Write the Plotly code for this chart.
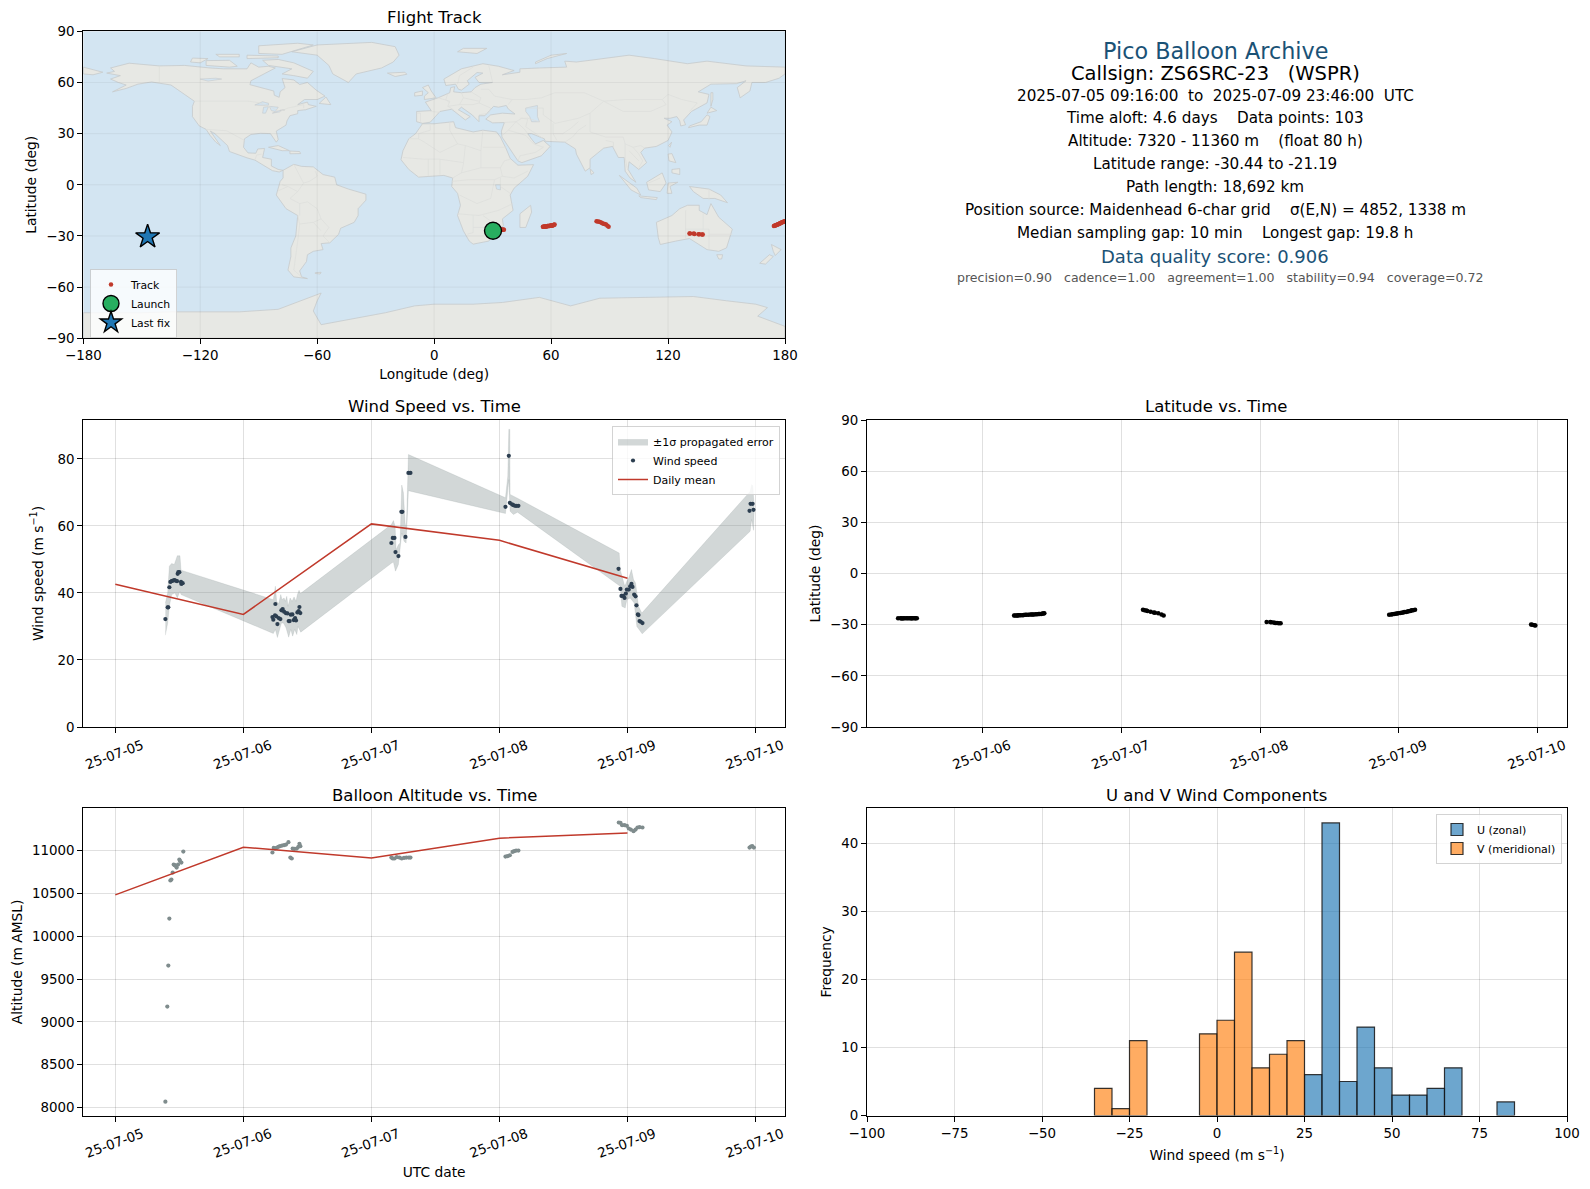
# Pico balloon flight summary, six panels
import pandas as pd
import plotly.graph_objects as go

# ---- samples, day of July 2025 (decimal) ----
wind_days = [5.391, 5.409, 5.414, 5.422, 5.430, 5.440, 5.451, 5.461, 5.471, 5.482, 5.487, 5.492, 5.500, 5.513, 5.516, 5.526,
             6.227, 6.234, 6.247, 6.250, 6.258, 6.266, 6.276, 6.289, 6.297, 6.307, 6.318, 6.331, 6.344, 6.354, 6.362, 6.370,
             6.383, 6.393, 6.404, 6.411, 6.422, 6.432, 6.438, 6.445,
             7.156, 7.167, 7.180, 7.188, 7.211, 7.234, 7.242, 7.266, 7.289, 7.305,
             8.047, 8.073, 8.081, 8.099, 8.109, 8.122, 8.135, 8.148,
             8.930, 8.945, 8.953, 8.966, 8.977, 8.987, 8.995, 9.010, 9.021, 9.031, 9.039, 9.052, 9.063, 9.070, 9.081, 9.086,
             9.094, 9.104, 9.117,
             9.953, 9.961, 9.977, 9.984]
wind_speed = [32.2, 35.7, 35.7, 41.7, 43.3, 43.5, 43.7, 43.8, 43.7, 43.5, 45.7, 46.2, 46.2, 43.3, 42.7, 42.9,
              32.8, 32.0, 33.3, 36.7, 33.0, 30.7, 32.5, 32.2, 34.8, 35.2, 34.4, 34.0, 33.9, 31.6, 31.6, 33.5,
              33.6, 31.9, 32.5, 31.8, 34.2, 34.6, 35.8, 34.0,
              54.9, 56.4, 56.4, 52.2, 51.0, 64.2, 64.2, 56.7, 75.8, 75.8,
              65.7, 80.9, 66.9, 66.4, 66.2, 66.0, 66.0, 66.0,
              47.2, 41.2, 39.1, 39.1, 38.5, 39.8, 41.0, 41.0, 42.0, 42.7, 41.8, 39.5, 39.0, 36.3, 33.6, 33.4,
              31.6, 31.4, 31.0,
              64.5, 66.6, 66.6, 64.8]

upper_days = [5.391, 5.409, 5.422, 5.440, 5.461, 5.484, 5.505, 5.513,
              6.234, 6.250, 6.260, 6.276, 6.292, 6.302, 6.318, 6.328, 6.339, 6.349, 6.365, 6.380, 6.396, 6.411, 6.422, 6.435, 6.445,
              7.156, 7.172, 7.185, 7.193, 7.211, 7.224, 7.237, 7.250, 7.263, 7.273, 7.289,
              8.047, 8.065, 8.073, 8.081, 8.083, 8.148,
              8.935, 8.943, 8.964, 8.979, 8.995, 9.010, 9.031, 9.047, 9.063, 9.086, 9.112,
              9.958, 9.969, 9.979, 9.990]
upper_speed = [37.0, 40.0, 48.0, 48.8, 48.5, 51.1, 51.1, 46.8,
               38.0, 42.0, 37.5, 36.8, 39.5, 38.0, 38.5, 37.5, 39.0, 36.0, 38.5, 37.5, 38.8, 37.5, 39.5, 40.8, 39.8,
               60.4, 61.6, 59.9, 52.9, 54.4, 54.9, 72.2, 69.9, 60.9, 58.9, 81.3,
               68.4, 74.8, 88.8, 88.8, 69.4, 68.1,
               51.9, 47.0, 44.0, 42.0, 43.5, 44.5, 47.0, 44.0, 43.0, 36.0, 34.0,
               70.3, 72.3, 72.0, 64.9]
lower_days = [5.391, 5.409, 5.422, 5.440, 5.466, 5.484, 5.505, 5.513,
              6.234, 6.250, 6.266, 6.281, 6.297, 6.313, 6.333, 6.354, 6.370, 6.385, 6.401, 6.417, 6.427, 6.448,
              7.161, 7.172, 7.188, 7.211, 7.224, 7.237, 7.255, 7.271, 7.289,
              8.047, 8.073, 8.083, 8.109, 8.141,
              8.943, 8.956, 8.982, 8.995, 9.021, 9.052, 9.073, 9.115,
              9.958, 9.969, 9.984]
lower_speed = [27.4, 31.0, 36.0, 39.5, 40.0, 38.5, 40.5, 39.5,
               27.9, 29.1, 26.7, 28.6, 31.0, 31.0, 29.6, 26.8, 29.1, 27.1, 29.1, 27.6, 30.0, 28.3,
               49.0, 49.2, 46.5, 48.5, 51.9, 57.9, 55.4, 54.9, 70.5,
               63.7, 73.8, 64.4, 63.4, 64.1,
               42.0, 36.0, 35.5, 38.0, 38.5, 37.0, 30.0, 27.8,
               58.4, 61.9, 58.7]

mean_days = [5, 6, 7, 8, 9]
mean_speed = [42.6, 33.6, 60.6, 55.7, 44.4]
mean_alt = [10482, 11039, 10914, 11144, 11206]

alt_days = [5.391, 5.406, 5.414, 5.422, 5.430, 5.438, 5.448, 5.456, 5.464, 5.471, 5.479, 5.490, 5.500, 5.505, 5.516, 5.531,
            6.227, 6.237, 6.247, 6.260, 6.273, 6.286, 6.302, 6.318, 6.333, 6.352, 6.367, 6.378, 6.385, 6.398, 6.417, 6.430, 6.438, 6.445,
            7.156, 7.167, 7.180, 7.198, 7.219, 7.237, 7.255, 7.273, 7.292, 7.305,
            8.047, 8.063, 8.081, 8.102, 8.115, 8.130, 8.148,
            8.932, 8.945, 8.958, 8.977, 8.995, 9.010, 9.026, 9.047, 9.063, 9.078, 9.094, 9.117,
            9.953, 9.964, 9.974, 9.987]
alt_m = [8068, 9178, 9657, 10206, 10650, 10661, 10743, 10836, 10829, 10821, 10801, 10836, 10895, 10879, 10860, 10988,
         10977, 11031, 11023, 11031, 11043, 11051, 11058, 11062, 11070, 11097, 10918, 10907, 11023, 11019, 11023, 11043, 11078, 11051,
         10918, 10907, 10907, 10922, 10918, 10907, 10914, 10918, 10918, 10918,
         10930, 10934, 10945, 10984, 10992, 11000, 11000,
         11327, 11323, 11296, 11296, 11288, 11257, 11245, 11226, 11245, 11269, 11273, 11269,
         11035, 11047, 11051, 11035]

# latitude shares the wind sample times
lat_deg = [-26.3, -26.3, -26.3, -26.4, -26.3, -26.3, -26.3, -26.2, -26.3, -26.3, -26.3, -26.2, -26.3, -26.3, -26.2, -26.3,
           -24.6, -24.6, -24.6, -24.6, -24.5, -24.5, -24.5, -24.5, -24.3, -24.2, -24.2, -24.2, -24.1, -24.1, -24.0, -24.0,
           -23.9, -23.9, -23.8, -23.8, -23.7, -23.5, -23.4, -23.3,
           -21.3, -21.5, -21.7, -22.0, -22.4, -22.8, -23.0, -23.3, -24.0, -24.6,
           -28.5, -28.5, -28.6, -28.8, -29.0, -29.0, -29.2, -29.2,
           -24.2, -24.0, -23.9, -23.7, -23.6, -23.4, -23.3, -23.1, -23.0, -22.8, -22.6, -22.5, -22.3, -22.1, -22.0, -21.8,
           -21.6, -21.5, -21.3,
           -29.9, -30.1, -30.3, -30.44]
lon_deg = [30.2, 30.5, 30.9, 31.3, 31.7, 32.0, 32.4, 32.8, 33.2, 33.5, 33.9, 34.2, 34.6, 35.0, 35.4, 35.8,
           55.8, 56.0, 56.3, 56.5, 56.8, 57.1, 57.3, 57.6, 57.8, 58.1, 58.4, 58.6, 58.9, 59.2, 59.4, 59.7,
           60.0, 60.2, 60.5, 60.7, 61.0, 61.3, 61.5, 61.8,
           83.3, 84.0, 84.7, 85.4, 86.1, 86.8, 87.5, 88.2, 88.9, 89.5,
           131.0, 131.3, 133.2, 133.5, 135.6, 136.0, 137.4, 137.8,
           174.3, 174.6, 175.0, 175.3, 175.6, 175.9, 176.2, 176.5, 176.8, 177.1, 177.4, 177.7, 178.0, 178.3, 178.6, 178.9,
           179.2, 179.6, 179.9,
           -147.9, -147.6, -147.3, -147.0]

launch_lon, launch_lat = [30.2], [-26.9]
last_lon, last_lat = [-147.0], [-30.44]

# histogram counts, 5 m/s bins
u_bins = [25, 30, 35, 40, 45, 50, 55, 60, 65, 80]
u_counts = [6, 43, 5, 13, 7, 3, 3, 4, 7, 2]
v_bins = [-35, -30, -25, -5, 0, 5, 10, 15, 20]
v_counts = [4, 1, 11, 12, 14, 24, 7, 9, 11]

# ---- rough coastlines as (lon, lat) ----
north_america = [(-168, 65.5), (-164, 66.5), (-166, 68.5), (-156.5, 71.3), (-141, 69.7), (-128, 70), (-115, 68.5), (-108, 68), (-96, 68),
                 (-94, 71.5), (-90, 69), (-85, 69.5), (-81.5, 68.5), (-87, 65), (-94, 61), (-94.5, 58.7), (-88, 56.5), (-82.3, 55),
                 (-82, 52.5), (-79.5, 51.3), (-79, 54.5), (-76.5, 57), (-78, 62.3), (-72, 61.5), (-69, 58.8), (-65, 60), (-60.5, 55.5),
                 (-56, 52), (-60, 50), (-66.5, 50), (-70, 47), (-65, 48.5), (-64.5, 47), (-60.5, 46), (-66, 44), (-70, 43.5), (-70, 41.7),
                 (-74, 40.5), (-75.5, 37.5), (-76, 35), (-81, 31.5), (-80, 26.5), (-81, 25), (-82.7, 28), (-84, 30), (-89, 30.2), (-94, 29.5),
                 (-97.3, 27), (-97.8, 22), (-95.5, 18.7), (-91.5, 18.5), (-90.5, 21), (-87, 21.3), (-88, 16), (-83.5, 15), (-83.5, 11),
                 (-80, 9), (-77.5, 8.5), (-79.5, 7.5), (-83, 8.3), (-86, 10.5), (-92, 14.5), (-96, 15.8), (-105, 19.5), (-106, 23),
                 (-112.5, 30), (-114.8, 31.5), (-112, 26.5), (-109.7, 23), (-112, 25), (-115, 29), (-117, 32.5), (-120.5, 34.5), (-124, 40),
                 (-124, 46), (-123, 49), (-130, 54.5), (-135, 58.5), (-145, 60.3), (-152, 59), (-158, 56.5), (-165, 54.5), (-158, 58.5),
                 (-162, 60), (-166, 62), (-161, 64), (-168, 65.5)]
south_america = [(-77.5, 8.5), (-72, 12), (-68, 10.8), (-62, 10.5), (-57, 6), (-51, 4.5), (-50, 0), (-44, -2.5), (-35, -5.5), (-35, -9),
                 (-39, -14), (-39, -18), (-41, -22), (-48, -25.5), (-49, -29), (-53.5, -34), (-58, -34.5), (-57, -38), (-62, -39), (-65, -41),
                 (-65.5, -45), (-69, -50.5), (-68, -54), (-65, -55), (-72, -54), (-75, -50), (-73.5, -42), (-73.5, -37), (-71, -30),
                 (-70, -18), (-76, -14), (-81, -6), (-80, -2), (-79, 2), (-77.5, 4), (-77.5, 8.5)]
africa = [(-6, 35.8), (0, 35.8), (10, 37), (11, 33.5), (20, 31), (25, 32), (32, 31), (34, 28), (37, 21), (39, 15.5), (43, 11.5), (51, 11.8),
          (48, 5), (41, -2), (39, -6), (40.5, -15), (35, -20), (35.5, -24), (32.7, -27), (28, -33), (20, -34.8), (18, -33), (15, -27),
          (12, -18), (13.5, -12), (12, -5), (9, -1), (9.5, 4), (5, 5.5), (-4, 5), (-8, 4.5), (-13, 9), (-17, 14.7), (-16, 20), (-13, 27),
          (-9.5, 30), (-6, 35.8)]
eurasia = [(-9, 37), (-9, 43), (-1.5, 43.5), (-4.5, 48.5), (2, 51), (8, 54), (8.5, 57), (10.5, 57.5), (10, 54.5), (14, 54), (19, 54.5),
           (21, 57), (24, 59), (30, 60), (23, 60), (21, 63), (25, 65.5), (22, 65.8), (17, 61), (18, 59), (14, 55.5), (12.5, 56), (11, 59),
           (6, 58.2), (5, 62), (14, 68), (25, 71), (33, 69.5), (41, 67), (35, 64.5), (44, 66), (44, 68), (54, 68.5), (68, 69), (67, 72.5),
           (73, 72), (80, 73), (100, 76), (113, 74), (130, 71), (140, 72.5), (160, 69.7), (180, 69), (180, 65), (177, 62.5), (170, 60),
           (163, 60), (162, 55), (157, 51), (155.5, 57), (160, 61), (155, 59.3), (142, 59), (135.5, 54.5), (141, 53), (140, 48), (132, 43),
           (128, 38), (129, 35.2), (126.5, 34.5), (126, 37.5), (124.5, 40), (121, 39), (118, 39), (122, 37), (119.5, 35), (122, 31), (120, 26),
           (114, 22.5), (108, 21.5), (106, 19), (109, 13), (105, 9), (100, 13.5), (99.5, 9), (103.5, 1.5), (100.5, 4), (98, 8), (97.5, 16),
           (94.5, 16), (91.5, 22.5), (87, 21.5), (80, 15), (80, 10), (77.5, 8), (73, 18), (72.5, 21), (67, 25), (57, 25.5), (56.5, 27),
           (50, 30), (48, 30), (50.5, 26), (52, 24), (56, 26), (59.5, 22.5), (55, 17), (45, 13), (43, 14), (39, 21), (34.8, 28), (34.5, 31.5),
           (36, 36.5), (30, 36.3), (26.5, 38.5), (29, 41), (35, 42), (41.5, 41.5), (38, 44.5), (37, 46.5), (33, 45.5), (30.5, 46), (28, 43),
           (26, 40.5), (23, 40.5), (23, 37), (19.5, 41), (14, 45.5), (12.5, 44), (18.5, 40), (16, 38), (11, 42.5), (9, 44.3), (3, 43), (0, 39),
           (-2, 36.7), (-6, 36), (-9, 37)]
australia = [(114, -22), (122, -18), (126, -14), (130, -12), (136, -12), (136, -15), (140, -17.5), (142, -11), (146, -19), (153, -26),
             (150, -37), (146, -39), (140, -38), (136, -35), (131, -31.5), (124, -33), (116, -35), (115, -31), (114, -22)]
antarctica = [(-180, -75), (-150, -75), (-135, -74.5), (-100, -74.5), (-80, -73), (-68, -68), (-58, -63.5), (-60, -68), (-62, -74), (-58, -82),
              (-40, -78), (-25, -75), (-10, -71), (0, -70), (20, -70), (35, -69), (54, -66), (70, -71), (85, -66.5), (110, -66), (133, -65.5),
              (150, -68), (165, -70), (171, -72), (166, -77), (180, -83), (180, -90), (-180, -90), (-180, -75)]
islands = [
    [(-73, 78), (-60, 76), (-54, 70), (-52, 65), (-44, 60), (-40, 65), (-27, 68.5), (-21, 72), (-18, 76), (-20, 81), (-32, 83.5), (-60, 82), (-73, 78)],
    [(-80, 73.5), (-72, 71.5), (-62, 66.5), (-65, 62.5), (-72, 64), (-78, 65), (-73, 68), (-85, 70), (-88, 73), (-80, 73.5)],
    [(-117, 70), (-105, 69), (-101, 69.5), (-105, 73), (-117, 72.8), (-117, 70)],
    [(-125, 72), (-120, 71.5), (-116, 74), (-124, 74.3), (-125, 72)],
    [(-90, 77), (-78, 76.5), (-62, 82), (-70, 83), (-90, 81.5), (-90, 77)],
    [(-96, 74), (-80, 74.5), (-80, 75.5), (-96, 76), (-96, 74)],
    [(-110, 75), (-100, 75), (-100, 76.5), (-112, 76.5), (-110, 75)],
    [(-59, 47.7), (-53, 47), (-55.5, 51.5), (-59, 47.7)],
    [(-85, 22), (-80, 23), (-74.2, 20), (-78, 20), (-85, 22)],
    [(-74, 19.8), (-69, 19.5), (-68.5, 18.3), (-74, 18.2), (-74, 19.8)],
    [(-180, 69), (-170, 66), (-175, 64.5), (-180, 65), (-180, 69)],
    [(-5, 50), (1, 51), (-1.5, 55), (-3, 58.5), (-6, 57), (-3, 54), (-5, 52), (-5, 50)],
    [(-10, 52), (-6, 52.5), (-6, 55), (-10, 54), (-10, 52)],
    [(-24, 65.5), (-15, 66), (-14, 64.8), (-20, 63.5), (-24, 65.5)],
    [(12, 78), (22, 77), (27, 80), (15, 80), (12, 78)],
    [(52, 71), (58, 74), (68, 77), (60, 76), (52, 72), (52, 71)],
    [(130.5, 33.5), (136, 35), (140, 35), (141.5, 40), (140, 41), (137, 37), (131, 34.5), (130.5, 33.5)],
    [(140, 42), (145, 43.5), (142, 45.5), (140, 42)],
    [(142, 46), (143, 50), (143, 54), (142, 54), (142, 46)],
    [(120.3, 23), (121.8, 25), (121, 22), (120.3, 23)],
    [(120, 18), (122, 18.3), (124, 13), (120.5, 14), (120, 18)],
    [(122, 9), (126, 9.5), (126, 6), (122, 7), (122, 9)],
    [(109, 1.5), (117, 7), (119, 1), (116, -4), (110, -3), (109, 1.5)],
    [(95, 5.5), (104, -2), (106, -6), (101, -3), (95, 5.5)],
    [(105, -6.5), (114.5, -7.5), (114, -8.7), (106, -7.5), (105, -6.5)],
    [(119.5, -5), (120, 1), (125, 1.5), (121, -1), (122, -5), (119.5, -5)],
    [(131, -1), (141, -2.5), (147, -6), (150.5, -10.5), (144, -8), (138, -8), (133, -4), (131, -1)],
    [(145, -41), (148, -41), (147.5, -43.5), (146, -43.5), (145, -41)],
    [(173, -35), (178, -38), (175, -41.5), (174, -39), (173, -35)],
    [(172, -41), (174, -42), (170, -46.5), (167, -46), (172, -41)],
    [(49.5, -12), (50, -16), (47, -25), (44, -25), (44, -17), (49.5, -12)],
    [(80, 9.5), (82, 7), (80.5, 6), (80, 9.5)],
    [(-61, -51.5), (-58, -51.3), (-58.5, -52.3), (-61, -52), (-61, -51.5)],
]
lakes = [
    [(-92, 46.8), (-88, 48.7), (-85, 47.8), (-85, 46.7), (-88, 46.6), (-92, 46.8)],
    [(-88, 42), (-86.5, 42), (-85, 45.8), (-87.5, 45.5), (-88, 42)],
    [(-84.5, 46), (-80, 45.5), (-81.5, 43), (-83.5, 43.5), (-84.5, 46)],
    [(-83, 42), (-79, 42.8), (-79, 43.7), (-77, 43.6), (-76.5, 44), (-79.5, 43.5), (-83, 42)],
    [(47, 45), (53, 46.5), (53, 40), (54, 37), (50, 37), (49, 40), (47, 43), (47, 45)],
    [(-120, 62), (-112, 62.5), (-109, 62), (-116, 60.8), (-120, 62)],
    [(31.5, 0), (34, 0), (34, -3), (32, -2.5), (31.5, 0)],
]
borders = [
    [(-123, 49), (-95, 49), (-89, 48), (-82.5, 45), (-79, 43), (-75, 45), (-67, 47), (-67, 45)], [(-141, 69.7), (-141, 60)],
    [(-117, 32.5), (-106.5, 31.7), (-97.3, 26)], [(-92, 14.5), (-91, 17.5), (-88.5, 18)], [(-72, 12), (-67, 1), (-70, -4), (-74, -8), (-69, -11)],
    [(-61, 8), (-60, 5), (-64, 2), (-67, 1)], [(-78, 0), (-75, -1), (-70, -4)], [(-80, -3.5), (-75, -1)], [(-69, -11), (-65, -10), (-60, -14), (-58, -20), (-54, -25), (-57, -30), (-53.5, -34)],
    [(-70, -18), (-69, -23), (-70, -33), (-72, -50), (-68, -54)], [(-69, -11), (-69, -18)], [(-62, -22), (-58, -20)], [(-69, -23), (-62, -22), (-58, -27)],
    [(-13, 27), (-8, 27), (-8, 30), (-2, 32), (-2, 35)], [(8, 37), (8, 32), (12, 24), (16, 23), (24, 20), (25, 32)], [(25, 22), (37, 22)], [(24, 20), (24, 10), (34, 10), (36, 14), (39, 15)],
    [(16, 23), (15, 12), (14, 7), (9.5, 4)], [(-16, 16), (-5, 15), (3, 15), (15, 13)], [(-8, 27), (-5, 25), (3, 19), (12, 24)], [(3, 15), (3, 6)], [(-3, 15), (-3, 5)],
    [(14, 7), (24, 10)], [(9, 2), (18, 3), (31, 3), (35, 5), (41, 4), (48, 8)], [(34, 10), (35, 5)], [(34, 4), (34, -1), (39, -5)], [(31, 3), (29, -8), (22, -11), (13, -6)],
    [(12, -17), (23, -18), (33, -15), (40.5, -11)], [(20, -18), (20, -28), (17, -29)], [(25, -18), (30, -22), (32, -26)], [(20, -25), (28, -25), (32, -22)],
    [(-2, 43), (3, 42.5)], [(-9, 42), (-7, 42), (-7, 37)], [(2, 51), (8, 49), (7, 46), (10, 44)], [(7, 53.5), (6, 50), (8, 48)], [(14, 54), (15, 51), (13, 47), (7, 46)],
    [(19, 54.5), (24, 51), (23, 48), (29, 45)], [(15, 51), (23, 49)], [(13, 47), (20, 47), (23, 48)], [(23, 41), (28, 42), (29, 45)], [(12, 59), (13, 64), (20, 69)], [(30, 60), (29, 65), (28, 70)],
    [(24, 56), (28, 56), (31, 52), (40, 50), (38, 47)], [(40, 50), (47, 50), (55, 51), (62, 54), (77, 54), (87, 49)], [(47, 45), (56, 45), (56, 41), (62, 36), (66, 37), (74, 39), (80, 42), (87, 49)],
    [(87, 49), (98, 50), (106, 50), (117, 50), (120, 53), (127, 50), (135, 48), (131, 43)], [(87, 49), (97, 43), (111, 43), (119, 47), (117, 50)], [(80, 42), (80, 31), (88, 28), (97, 28), (98, 24), (102, 22), (106, 23), (108, 21.5)],
    [(36, 36.5), (42, 37), (45, 39), (48, 38.5)], [(42, 37), (46, 33), (48, 30)], [(44, 39), (48, 39), (54, 37)], [(48, 38.5), (47, 34), (56, 27)], [(61, 36), (61, 30), (63, 26)], [(61, 30), (66, 30), (70, 33), (74, 37)],
    [(35, 29), (38, 32), (42, 37)], [(38, 32), (47, 29), (51, 24), (56, 22), (52, 19), (44, 17), (43, 14)], [(67, 25), (71, 28), (74, 32), (78, 35)], [(88, 26), (92, 25), (92, 22)],
    [(98, 24), (98, 16), (99, 10)], [(102, 22), (105, 18), (107, 14), (105, 10)], [(100, 20), (105, 14)], [(129, -15), (129, -31.5)], [(129, -26), (141, -26), (141, -38)], [(138, -17), (138, -26)], [(141, -29), (153, -29)],
    [(141, -2.5), (141, -9)], [(110, 1), (116, 4)],
]

font = "DejaVu Sans"
# page draws at (8, 8) because of the body margin
W, H = 1574, 1173
OFF = 8


def xdom(a, b):
    return [(a - OFF) / W, (b - OFF) / W]


def ydom(a, b):
    return [1 - (b - OFF) / H, 1 - (a - OFF) / H]


def dates(days):
    return [pd.Timestamp("2025-07-01") + pd.Timedelta(days=d - 1) for d in days]


def ring_xy(rings):
    xs, ys = [], []
    for ring in rings:
        xs += [p[0] for p in ring] + [None]
        ys += [p[1] for p in ring] + [None]
    return xs, ys


fig = go.Figure()

# --- map panel ---
land_x, land_y = ring_xy([north_america, south_america, africa, eurasia, australia, antarctica] + islands)
fig.add_trace(go.Scatter(x=land_x, y=land_y, mode="lines", fill="toself", fillcolor="#e7e8e4",
                         line=dict(color="#c6cacb", width=0.8), hoverinfo="skip", showlegend=False, xaxis="x", yaxis="y"))
lake_x, lake_y = ring_xy(lakes)
fig.add_trace(go.Scatter(x=lake_x, y=lake_y, mode="lines", fill="toself", fillcolor="#d3e5f2",
                         line=dict(color="#c6cacb", width=0.6), hoverinfo="skip", showlegend=False, xaxis="x", yaxis="y"))
bord_x, bord_y = ring_xy(borders)
fig.add_trace(go.Scatter(x=bord_x, y=bord_y, mode="lines", line=dict(color="#dcdedb", width=0.7),
                         hoverinfo="skip", showlegend=False, xaxis="x", yaxis="y"))
# grid has to sit on top of the land
map_x_ticks = [-180, -120, -60, 0, 60, 120, 180]
map_y_ticks = [-90, -60, -30, 0, 30, 60, 90]
grid_x, grid_y = [], []
for t in map_x_ticks:
    grid_x += [t, t, None]
    grid_y += [-90, 90, None]
for t in map_y_ticks:
    grid_x += [-180, 180, None]
    grid_y += [t, t, None]
fig.add_trace(go.Scatter(x=grid_x, y=grid_y, mode="lines", line=dict(color="rgba(90,90,90,0.1)", width=0.8),
                         hoverinfo="skip", showlegend=False, xaxis="x", yaxis="y"))
fig.add_trace(go.Scatter(x=lon_deg, y=lat_deg, mode="markers", name="Track", legend="legend",
                         marker=dict(color="#c0392b", size=4.5), xaxis="x", yaxis="y"))
fig.add_trace(go.Scatter(x=launch_lon, y=launch_lat, mode="markers", name="Launch", legend="legend",
                         marker=dict(color="#27ae60", size=17, symbol="circle", line=dict(color="black", width=1.4)), xaxis="x", yaxis="y"))
fig.add_trace(go.Scatter(x=last_lon, y=last_lat, mode="markers", name="Last fix", legend="legend",
                         marker=dict(color="#1f77b4", size=18, symbol="star", line=dict(color="black", width=1.4)), xaxis="x", yaxis="y"))

# --- wind speed ---
band_t = dates(upper_days) + dates(lower_days)[::-1]
band_v = upper_speed + lower_speed[::-1]
fig.add_trace(go.Scatter(x=band_t, y=band_v, mode="lines", fill="toself", fillcolor="rgba(127,140,141,0.35)",
                         line=dict(color="rgba(127,140,141,0.2)", width=0.8), name="±1σ propagated error", legend="legend2",
                         hoverinfo="skip", xaxis="x2", yaxis="y2"))
fig.add_trace(go.Scatter(x=dates(wind_days), y=wind_speed, mode="markers", name="Wind speed", legend="legend2",
                         marker=dict(color="#2c3e50", size=4.2), xaxis="x2", yaxis="y2"))
fig.add_trace(go.Scatter(x=dates(mean_days), y=mean_speed, mode="lines", name="Daily mean", legend="legend2",
                         line=dict(color="#c0392b", width=1.5), xaxis="x2", yaxis="y2"))

# --- latitude ---
fig.add_trace(go.Scatter(x=dates(wind_days), y=lat_deg, mode="markers", marker=dict(color="black", size=4.5),
                         showlegend=False, xaxis="x3", yaxis="y3"))

# --- altitude ---
fig.add_trace(go.Scatter(x=dates(alt_days), y=alt_m, mode="markers", marker=dict(color="#7f8c8d", size=4.2),
                         showlegend=False, xaxis="x4", yaxis="y4"))
fig.add_trace(go.Scatter(x=dates(mean_days), y=mean_alt, mode="lines", line=dict(color="#c0392b", width=1.5),
                         showlegend=False, xaxis="x4", yaxis="y4"))

# --- histogram ---
fig.add_trace(go.Bar(x=[b + 2.5 for b in u_bins], y=u_counts, width=5, name="U (zonal)", legend="legend3",
                     marker=dict(color="rgba(31,119,180,0.65)", line=dict(color="rgba(20,20,20,0.85)", width=1.2)), xaxis="x5", yaxis="y5"))
fig.add_trace(go.Bar(x=[b + 2.5 for b in v_bins], y=v_counts, width=5, name="V (meridional)", legend="legend3",
                     marker=dict(color="rgba(255,127,14,0.65)", line=dict(color="rgba(20,20,20,0.85)", width=1.2)), xaxis="x5", yaxis="y5"))

TICK = 13.4
LAB = 13.8
grid = "rgba(0,0,0,0.12)"
axis_style = dict(automargin=False, showline=True, mirror=True, linecolor="black", linewidth=1, ticks="outside", ticklen=5, tickcolor="black",
                  showgrid=True, gridcolor=grid, gridwidth=1.1, zeroline=False, tickfont=dict(family=font, size=TICK))
# labels in the reference are centred under the tick, plotly anchors them at the end
date_style = dict(type="date", tickformat="%y-%m-%d", dtick=86400000, tick0="2025-07-05", tickangle=-20, ticklabelshift=27)

left = (83.3, 785)
right = (867, 1567)
row1 = (31.3, 338.3)
row2 = (420, 727)
row3 = (808.3, 1115.5)

fig.update_layout(
    width=W, height=H, autosize=False, margin=dict(l=0, r=0, t=0, b=0), paper_bgcolor="white", plot_bgcolor="white",
    font=dict(family=font, size=TICK, color="black"), barmode="overlay",
    xaxis=dict(axis_style, domain=xdom(*left), range=[-180, 180], tickvals=map_x_ticks, anchor="y", showgrid=False,
               title=dict(text="Longitude (deg)", standoff=6, font=dict(size=LAB))),
    yaxis=dict(axis_style, domain=ydom(*row1), range=[-90, 90], tickvals=map_y_ticks, anchor="x", showgrid=False,
               title=dict(text="Latitude (deg)", standoff=6, font=dict(size=LAB))),
    xaxis2=dict(axis_style, **date_style, domain=xdom(*left), range=[dates([4.75])[0], dates([10.23])[0]], anchor="y2"),
    yaxis2=dict(axis_style, domain=ydom(*row2), range=[0, 91.6], tickvals=[0, 20, 40, 60, 80], anchor="x2",
                title=dict(text="Wind speed (m s<sup>−1</sup>)", standoff=10, font=dict(size=LAB))),
    xaxis3=dict(axis_style, **date_style, domain=xdom(*right), range=[dates([5.167])[0], dates([10.212])[0]], anchor="y3"),
    yaxis3=dict(axis_style, domain=ydom(*row2), range=[-90, 90], tickvals=map_y_ticks, anchor="x3",
                title=dict(text="Latitude (deg)", standoff=6, font=dict(size=LAB))),
    xaxis4=dict(axis_style, **date_style, domain=xdom(*left), range=[dates([4.75])[0], dates([10.23])[0]], anchor="y4",
                title=dict(text="UTC date", standoff=7, font=dict(size=LAB))),
    yaxis4=dict(axis_style, domain=ydom(*row3), range=[7907, 11493], tickvals=[8000, 8500, 9000, 9500, 10000, 10500, 11000],
                tickformat="d", anchor="x4", title=dict(text="Altitude (m AMSL)", standoff=6, font=dict(size=LAB))),
    xaxis5=dict(axis_style, domain=xdom(*right), range=[-100, 100], tickvals=[-100, -75, -50, -25, 0, 25, 50, 75, 100], anchor="y5",
                title=dict(text="Wind speed (m s<sup>−1</sup>)", standoff=10, font=dict(size=LAB))),
    yaxis5=dict(axis_style, domain=ydom(*row3), range=[0, 45.15], tickvals=[0, 10, 20, 30, 40], anchor="x5",
                title=dict(text="Frequency", standoff=6, font=dict(size=LAB))),
    legend=dict(x=(90 - OFF) / W, y=1 - (338 - OFF) / H, xanchor="left", yanchor="bottom", bgcolor="rgba(255,255,255,0.8)",
                bordercolor="rgba(200,200,200,0.8)", borderwidth=1, font=dict(size=10.8), itemsizing="trace", itemwidth=30, tracegroupgap=0),
    legend2=dict(x=(780 - OFF) / W, y=1 - (426 - OFF) / H, xanchor="right", yanchor="top", bgcolor="rgba(255,255,255,0.8)",
                 bordercolor="rgba(200,200,200,0.8)", borderwidth=1, font=dict(size=11), itemwidth=30, tracegroupgap=0),
    legend3=dict(x=(1562 - OFF) / W, y=1 - (814 - OFF) / H, xanchor="right", yanchor="top", bgcolor="rgba(255,255,255,0.8)",
                 bordercolor="rgba(200,200,200,0.8)", borderwidth=1, font=dict(size=11), itemwidth=30, tracegroupgap=0),
)

# ocean behind the map
fig.add_shape(type="rect", xref="x", yref="y", x0=-180, x1=180, y0=-90, y1=90, fillcolor="#d3e5f2", line_width=0, layer="below")


def label(x, y, text, size, color="black"):
    fig.add_annotation(xref="paper", yref="paper", x=(x - OFF) / W, y=1 - (y - OFF) / H, text=text, showarrow=False,
                       xanchor="center", yanchor="middle", font=dict(family=font, size=size, color=color))


label(434, 18, "Flight Track", 16.5)
label(434, 407, "Wind Speed vs. Time", 16.5)
label(1216, 407, "Latitude vs. Time", 16.5)
label(434, 795, "Balloon Altitude vs. Time", 16.5)
label(1216, 795, "U and V Wind Components", 16.5)

label(1215, 51, "Pico Balloon Archive", 22.3, "#1a5276")
label(1215, 74, "Callsign: ZS6SRC-23   (WSPR)", 19.5)
label(1215, 95.5, "2025-07-05 09:16:00  to  2025-07-09 23:46:00  UTC", 15.2)
label(1215, 117.5, "Time aloft: 4.6 days    Data points: 103", 15.2)
label(1215, 140.5, "Altitude: 7320 - 11360 m    (float 80 h)", 15.2)
label(1215, 164, "Latitude range: -30.44 to -21.19", 15.2)
label(1215, 186.5, "Path length: 18,692 km", 15.2)
label(1215, 210, "Position source: Maidenhead 6-char grid    σ(E,N) = 4852, 1338 m", 15.2)
label(1215, 233, "Median sampling gap: 10 min    Longest gap: 19.8 h", 15.2)
label(1215, 256, "Data quality score: 0.906", 18, "#1a5276")
label(1220, 277, "precision=0.90   cadence=1.00   agreement=1.00   stability=0.94   coverage=0.72", 12.55, "#555555")

fig.write_html("out.html")
